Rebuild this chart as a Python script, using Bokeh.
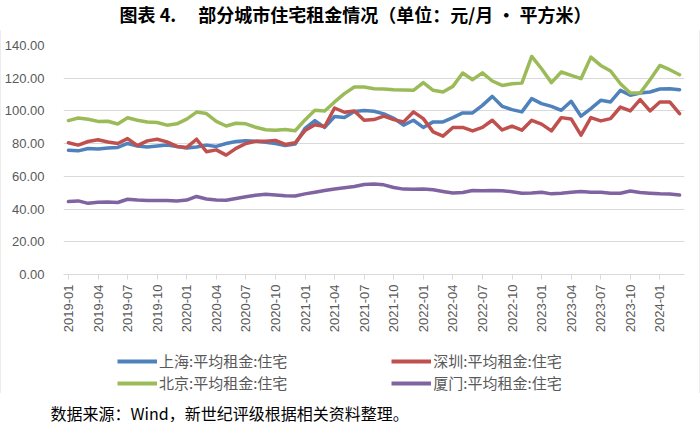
import math
from bokeh.plotting import figure
from bokeh.models import (Range1d, FixedTicker, NumeralTickFormatter, Legend, LegendItem,
                          Label, ColumnDataSource)
from bokeh.layouts import column, row
from bokeh.embed import file_html
from bokeh.resources import INLINE

# ---------------- data ----------------
months = [f"{y}-{m:02d}" for y in range(2019, 2025) for m in range(1, 13)][:63]

shanghai = [76.0, 75.6, 77.0, 76.7, 77.4, 77.7, 80.1, 78.6, 77.9, 78.6,
            79.1, 78.3, 77.4, 77.9, 79.1, 78.3, 80.1, 81.3, 81.7, 81.5,
            80.9, 80.1, 78.8, 79.7, 89.3, 94.1, 89.9, 96.6, 96.0, 99.6,
            100.2, 99.8, 98.2, 95.5, 91.3, 94.3, 89.9, 93.3, 93.3, 95.9,
            98.8, 98.8, 103.4, 108.9, 102.8, 100.8, 99.4, 107.5, 104.5, 102.8,
            100.4, 105.9, 96.8, 101.4, 106.5, 105.5, 112.6, 109.6, 110.9, 111.6,
            113.4, 113.6, 113.0]

shenzhen = [80.5, 79.1, 81.3, 82.4, 81.0, 80.1, 83.1, 78.8, 81.7, 82.7,
            81.1, 78.3, 77.7, 82.7, 75.1, 76.2, 73.0, 77.1, 80.1, 81.4,
            81.4, 82.0, 79.5, 80.5, 88.0, 91.5, 90.5, 101.8, 99.2, 100.0,
            94.3, 94.7, 96.8, 94.7, 93.3, 99.4, 95.3, 87.2, 84.6, 89.9,
            89.9, 87.8, 89.9, 94.3, 88.4, 90.7, 88.2, 94.3, 91.9, 87.8,
            95.9, 95.1, 85.2, 95.9, 93.9, 95.3, 102.4, 100.0, 106.9, 100.0,
            105.5, 105.5, 98.4]

beijing = [94.1, 95.7, 94.9, 93.6, 93.7, 92.0, 95.8, 94.3, 93.2, 92.9,
           91.3, 92.1, 95.0, 99.3, 98.4, 93.6, 90.8, 92.5, 92.1, 90.0,
           88.5, 88.2, 88.6, 87.9, 94.5, 100.4, 100.0, 105.5, 110.6, 114.6,
           114.6, 113.6, 113.4, 112.9, 112.8, 112.6, 117.3, 112.6, 111.6, 115.0,
           123.2, 119.1, 123.3, 118.3, 115.6, 116.6, 117.0, 133.3, 125.8, 117.3,
           123.8, 121.7, 119.7, 132.9, 127.8, 124.4, 116.6, 110.9, 110.9, 119.1,
           127.8, 125.2, 122.1]

xiamen = [44.6, 45.0, 43.5, 44.2, 44.3, 44.0, 46.0, 45.5, 45.3, 45.3,
          45.2, 45.0, 45.5, 47.7, 46.2, 45.6, 45.4, 46.5, 47.5, 48.5,
          49.0, 48.6, 48.2, 48.0, 49.3, 50.3, 51.3, 52.3, 53.1, 53.8,
          55.0, 55.3, 54.8, 53.2, 52.2, 52.1, 52.3, 51.8, 50.8, 49.8,
          50.1, 51.3, 51.2, 51.4, 51.2, 50.6, 49.7, 49.8, 50.3, 49.3,
          49.7, 50.3, 50.7, 50.3, 50.3, 49.7, 49.7, 51.0, 50.1, 49.7,
          49.3, 49.2, 48.6]

series_labels = ["上海:平均租金:住宅", "深圳:平均租金:住宅", "北京:平均租金:住宅", "厦门:平均租金:住宅"]
series_colors = ["#4F81BD", "#C0504D", "#9BBB59", "#8064A2"]
y_ticks = [0, 20, 40, 60, 80, 100, 120, 140]

title_text = "图表 4.\u3000 部分城市住宅租金情况（单位：元/月 • 平方米）"
source_text = "数据来源：Wind，新世纪评级根据相关资料整理。"

W = 700          # full width
CW = W - 2       # width inside the chart box
LW = 3.5
BOX_COLOR = "#d9d9d9"


def blank_fig(w, h, y_range=None, fill="white"):
    b = figure(width=w, height=h, output_backend="svg", toolbar_location=None,
               x_range=Range1d(0, w), y_range=y_range or Range1d(0, h),
               x_axis_location=None, y_axis_location=None,
               min_border=0, min_border_left=0, min_border_right=0,
               min_border_top=0, min_border_bottom=0)
    b.grid.visible = False
    b.outline_line_color = None
    b.background_fill_color = fill
    b.border_fill_color = fill
    return b


# ---------------- title ----------------
t = blank_fig(W, 29)
t.add_layout(Label(x=355, y=16, text=title_text, text_align="center", text_baseline="middle",
                   text_font="Noto Sans CJK SC", text_font_style="bold",
                   text_font_size="18px", text_color="#000000"))

# ---------------- main chart ----------------
idx = list(range(len(months)))
src = ColumnDataSource(dict(x=idx, sh=shanghai, sz=shenzhen, bj=beijing, xm=xiamen))

p = figure(width=CW, height=305, output_backend="svg", toolbar_location=None,
           x_range=Range1d(-0.5, len(months) - 0.5), y_range=Range1d(0, 140),
           min_border_left=62, min_border_right=15, min_border_top=15, min_border_bottom=60)
p.outline_line_color = None
p.background_fill_color = "white"
p.border_fill_color = "white"

p.xgrid.visible = False
p.ygrid.ticker = FixedTicker(ticks=y_ticks)
p.ygrid.grid_line_color = BOX_COLOR
p.ygrid.grid_line_width = 1

p.yaxis.ticker = FixedTicker(ticks=y_ticks)
p.yaxis.formatter = NumeralTickFormatter(format="0.00")
p.yaxis.axis_line_color = None
p.yaxis.major_tick_line_color = None
p.yaxis.minor_tick_line_color = None
p.yaxis.major_tick_out = 0
p.yaxis.major_label_standoff = 19
p.yaxis.major_label_text_font = "Liberation Sans"
p.yaxis.major_label_text_font_size = "13px"
p.yaxis.major_label_text_color = "#595959"

p.xaxis.ticker = FixedTicker(ticks=list(range(0, len(months), 3)))
p.xaxis.major_label_overrides = {i: months[i] for i in range(0, len(months), 3)}
p.xaxis.major_label_orientation = math.pi / 2
p.xaxis.axis_line_color = BOX_COLOR
p.xaxis.major_tick_line_color = BOX_COLOR
p.xaxis.major_tick_out = 5
p.xaxis.major_tick_in = 0
p.xaxis.minor_tick_line_color = None
p.xaxis.major_label_standoff = 5
p.xaxis.major_label_text_font = "Liberation Sans"
p.xaxis.major_label_text_font_size = "13px"
p.xaxis.major_label_text_color = "#595959"

cols = ["sh", "sz", "bj", "xm"]
for c, col in zip(cols, series_colors):
    p.line("x", c, source=src, line_color=col, line_width=LW,
           line_join="round", line_cap="round")

# ---------------- legend strip ----------------
# proxy renderers share the same data, but this strip's y range lies below it,
# so only their legend swatches are visible
lf = blank_fig(CW, 58, y_range=Range1d(-58, 0))
proxies = [lf.line("x", c, source=src, line_color=col, line_width=LW + 0.5)
           for c, col in zip(cols, series_colors)]


def make_legend(items, y):
    return Legend(items=items, orientation="horizontal", location=(54, y),
                  glyph_width=40, glyph_height=18, label_height=18, label_standoff=2,
                  spacing=104, padding=0, margin=0, border_line_color=None,
                  background_fill_alpha=0, label_text_font="Noto Sans CJK SC",
                  label_text_font_size="15px", label_text_color="#595959")


lf.add_layout(make_legend([LegendItem(label=series_labels[0], renderers=[proxies[0]]),
                           LegendItem(label=series_labels[1], renderers=[proxies[1]])], 22))
lf.add_layout(make_legend([LegendItem(label=series_labels[2], renderers=[proxies[2]]),
                           LegendItem(label=series_labels[3], renderers=[proxies[3]])], 0))

# ---------------- chart box border (thin grey strips) ----------------
inner_h = 305 + 58
box = column(
    blank_fig(W, 1, fill=BOX_COLOR),
    row(blank_fig(1, inner_h, fill=BOX_COLOR),
        column(p, lf, spacing=0),
        blank_fig(1, inner_h, fill=BOX_COLOR), spacing=0),
    blank_fig(W, 1, fill=BOX_COLOR),
    spacing=0)

# ---------------- footer ----------------
f = blank_fig(W, 32)
f.add_layout(Label(x=50, y=14, text=source_text, text_align="left", text_baseline="middle",
                   text_font="Noto Sans CJK SC", text_font_size="16px", text_color="#000000"))

layout = column(t, box, f, spacing=0)
open("out.html", "w").write(file_html(layout, INLINE))
